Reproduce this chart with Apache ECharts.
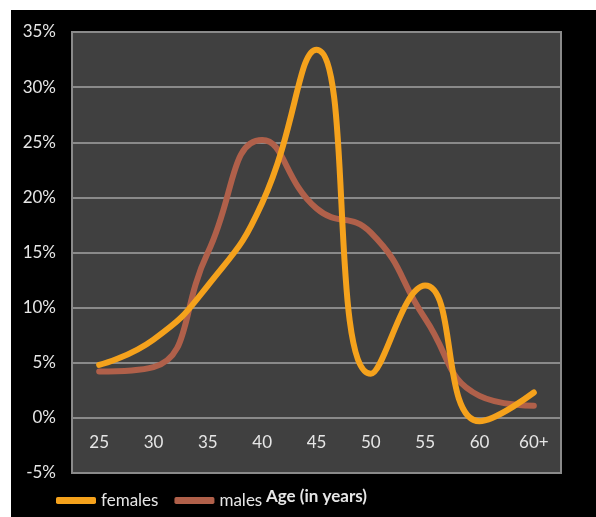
<!DOCTYPE html>
<html>
<head>
<meta charset="utf-8">
<script src="https://cdn.jsdelivr.net/npm/echarts@6/dist/echarts.min.js"></script>
<style>
  html, body { margin: 0; padding: 0; background: #ffffff; }
  #chart {
    position: absolute;
    left: 11px;
    top: 10px;
    width: 585px;
    height: 507px;
    background: #000000;
  }
</style>
</head>
<body>
<div id="chart"></div>
<script>
// age groups
const ages = ['25', '30', '35', '40', '45', '50', '55', '60', '60+']

// share per age group, in %
const females = [4.8, 7.1, 12.0, 19.5, 33.4, 4.0, 12.0, -0.3, 2.3]
const males = [4.2, 4.6, 15.0, 25.2, 19.0, 16.8, 9.0, 2.0, 1.1]

const textColor = '#e6e6e6'
const font = 'Lato, "Open Sans", sans-serif'

const chart = echarts.init(document.getElementById('chart'))

const option = {
  animation: false,
  grid: {
    left: 61,
    right: 35,
    top: 22,
    bottom: 44,
    show: true,
    backgroundColor: '#404040',
    borderColor: '#8a8a8a',
    borderWidth: 2
  },
  legend: {
    left: 40,
    top: 477,
    itemWidth: 40,
    itemHeight: 7,
    itemGap: 16,
    icon: 'roundRect',
    textStyle: { color: textColor, fontSize: 17, fontFamily: font },
    data: ['females', 'males']
  },
  xAxis: {
    type: 'category',
    data: ages,
    boundaryGap: true,
    axisLine: { show: false },
    axisTick: { show: false },
    axisLabel: {
      inside: true,
      margin: 30,
      verticalAlign: 'middle',
      color: textColor,
      fontSize: 17,
      fontFamily: font
    },
    name: 'Age (in years)',
    nameLocation: 'middle',
    nameGap: 15,
    nameTextStyle: {
      color: textColor,
      fontSize: 17,
      fontWeight: 'bold',
      fontFamily: font
    }
  },
  yAxis: {
    type: 'value',
    min: -5,
    max: 35,
    interval: 5,
    axisLine: { show: false },
    axisTick: { show: false },
    axisLabel: {
      margin: 16,
      color: textColor,
      fontSize: 17,
      fontFamily: font,
      formatter: (v) => v + '%'
    },
    splitLine: {
      lineStyle: { color: '#8a8a8a', width: 2 }
    }
  },
  series: [
    {
      name: 'females',
      type: 'line',
      data: females,
      smooth: 0.5,
      symbol: 'none',
      lineStyle: { width: 6, color: '#f5a21c', cap: 'round' },
      itemStyle: { color: '#f5a21c' },
      z: 3
    },
    {
      name: 'males',
      type: 'line',
      data: males,
      smooth: 0.5,
      symbol: 'none',
      lineStyle: { width: 6, color: '#b0604a', cap: 'round' },
      itemStyle: { color: '#b0604a' },
      z: 2
    }
  ]
}

chart.setOption(option)
</script>
</body>
</html>
